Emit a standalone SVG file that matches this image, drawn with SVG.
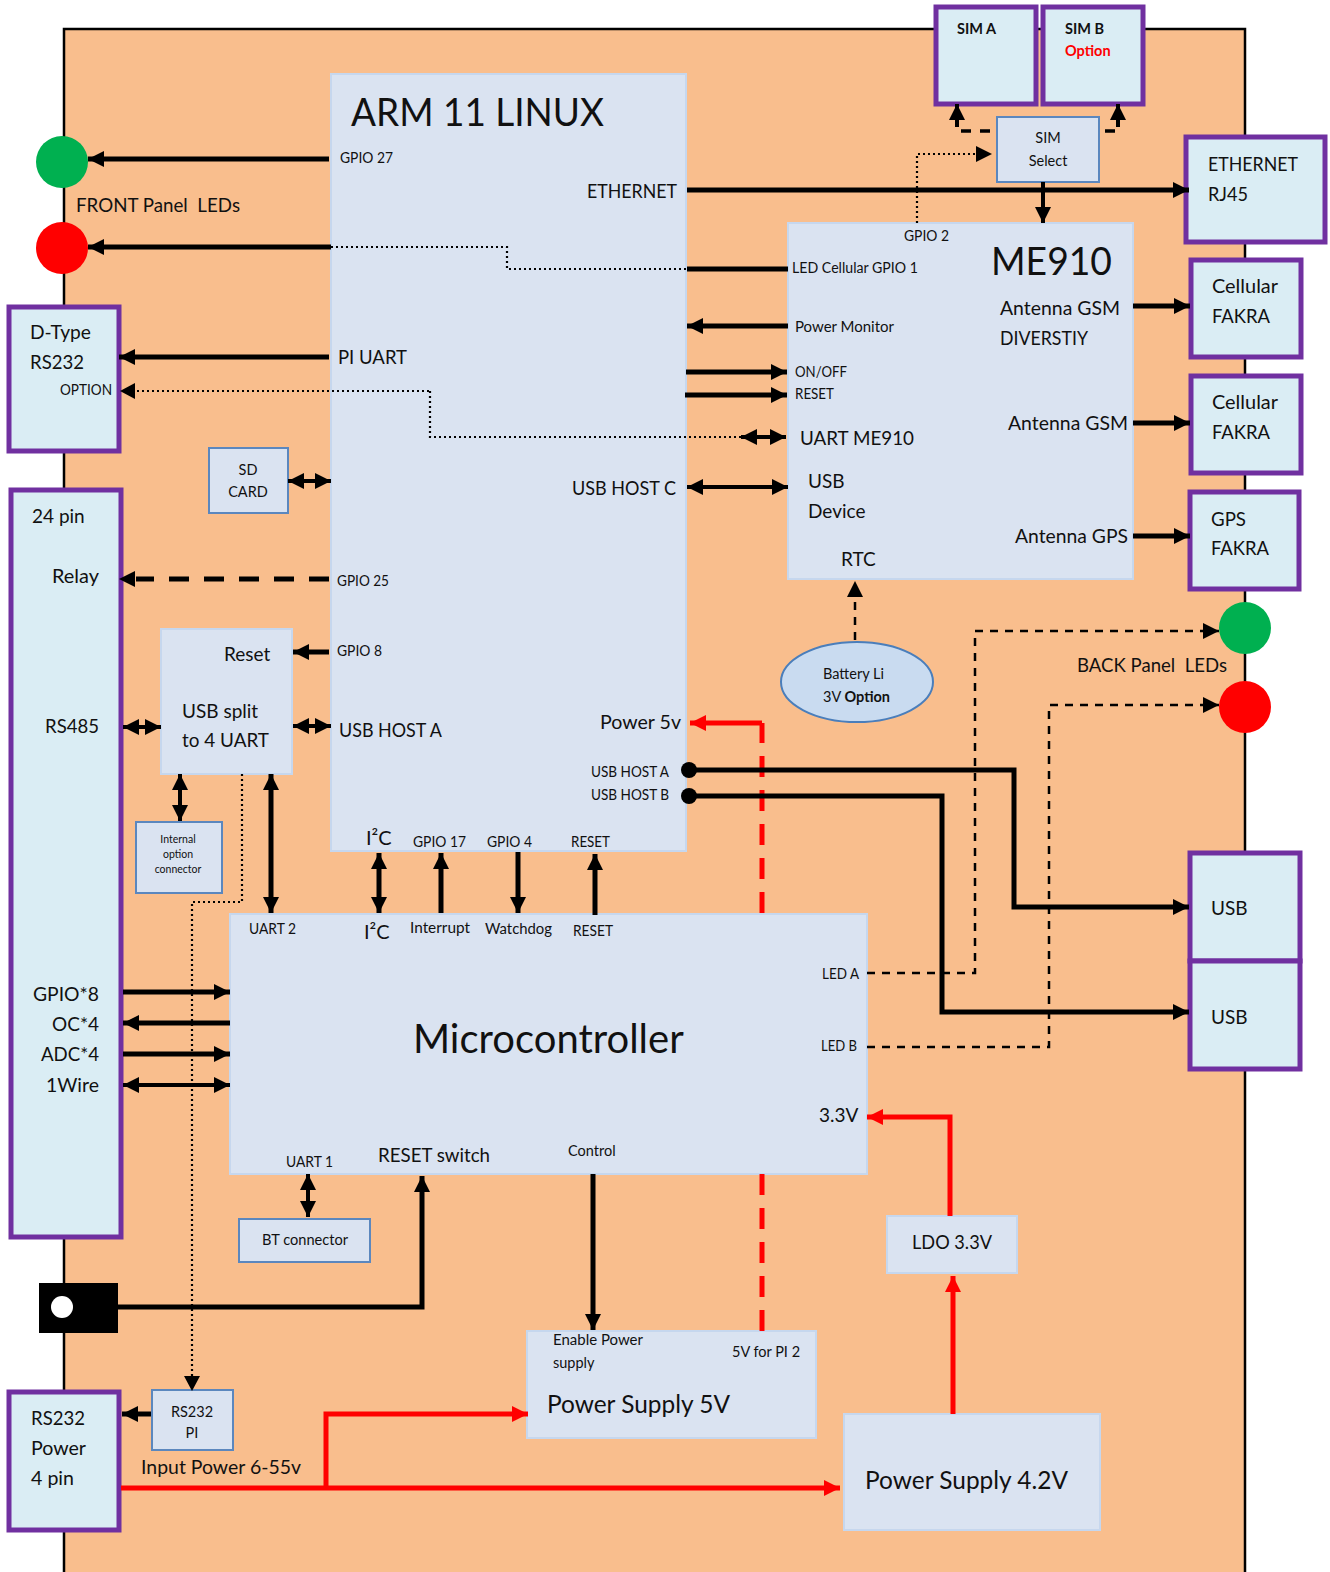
<svg xmlns="http://www.w3.org/2000/svg" width="1330" height="1572" viewBox="0 0 1330 1572">
<style>
text{font-family:Lato,"Liberation Sans",sans-serif;fill:#111}
.b{fill:#DAE3F1;stroke:#C6D7EE;stroke-width:2}
.s{fill:#DAE3F1;stroke:#5B87BE;stroke-width:2}
.p{fill:#DAEDF4;stroke:#7030A0;stroke-width:5}
.l{fill:none;stroke:#000;stroke-width:5}
.t{fill:none;stroke:#000;stroke-width:4}
.d{fill:none;stroke:#000;stroke-width:2.2;stroke-dasharray:2 3}
.h{fill:none;stroke:#000;stroke-width:2.5;stroke-dasharray:8 7}
.r{fill:none;stroke:#F00;stroke-width:5}
.e{marker-end:url(#a)}
.x{marker-start:url(#as);marker-end:url(#a)}
.f14{font-size:14.5px}.f19{font-size:19px}.f20{font-size:20px}
</style>
<defs>
<marker id="a" markerUnits="userSpaceOnUse" markerWidth="18" markerHeight="18" refX="16" refY="8" orient="auto"><path d="M0 0L16 8L0 16z" fill="#000"/></marker>
<marker id="as" markerUnits="userSpaceOnUse" markerWidth="18" markerHeight="18" refX="0" refY="8" orient="auto"><path d="M16 0L0 8L16 16z" fill="#000"/></marker>
<marker id="ar" markerUnits="userSpaceOnUse" markerWidth="18" markerHeight="18" refX="16" refY="8" orient="auto"><path d="M0 0L16 8L0 16z" fill="#F00"/></marker>
</defs>
<rect id="board" x="64" y="29" width="1181" height="1560" fill="#F9BE8D" stroke="#000" stroke-width="2.5"/>

<g id="arm"><rect class="b" x="331" y="74" width="355" height="777"/>
<text x="351" y="126" font-size="38" textLength="253" lengthAdjust="spacingAndGlyphs">ARM 11 LINUX</text>
<text class="f14" x="340" y="163" textLength="53" lengthAdjust="spacingAndGlyphs">GPIO 27</text>
<text class="f19" x="587" y="198" textLength="90" lengthAdjust="spacingAndGlyphs">ETHERNET</text>
<text class="f19" x="338" y="364" textLength="69" lengthAdjust="spacingAndGlyphs">PI UART</text>
<text class="f19" x="572" y="495" textLength="104" lengthAdjust="spacingAndGlyphs">USB HOST C</text>
<text class="f14" x="337" y="586" textLength="52" lengthAdjust="spacingAndGlyphs">GPIO 25</text>
<text class="f14" x="337" y="656" textLength="45" lengthAdjust="spacingAndGlyphs">GPIO 8</text>
<text class="f20" x="339" y="737" textLength="103" lengthAdjust="spacingAndGlyphs">USB HOST A</text>
<text class="f19" x="600" y="729" textLength="81" lengthAdjust="spacingAndGlyphs">Power 5v</text>
<text class="f14" x="591" y="777" textLength="78" lengthAdjust="spacingAndGlyphs">USB HOST A</text>
<text class="f14" x="591" y="800" textLength="78" lengthAdjust="spacingAndGlyphs">USB HOST B</text>
<text class="f20" x="366" y="845">I²C</text>
<text class="f14" x="413" y="847" textLength="53" lengthAdjust="spacingAndGlyphs">GPIO 17</text>
<text class="f14" x="487" y="847" textLength="45" lengthAdjust="spacingAndGlyphs">GPIO 4</text>
<text class="f14" x="571" y="847" textLength="39" lengthAdjust="spacingAndGlyphs">RESET</text>
</g>
<g id="me910"><rect class="b" x="788" y="223" width="345" height="356"/>
<text x="991" y="275" font-size="38" textLength="121" lengthAdjust="spacingAndGlyphs">ME910</text>
<text class="f14" x="904" y="241" textLength="45" lengthAdjust="spacingAndGlyphs">GPIO 2</text>
<text class="f14" x="792" y="273" textLength="126" lengthAdjust="spacingAndGlyphs">LED Cellular GPIO 1</text>
<text class="f14" x="795" y="332" textLength="99" lengthAdjust="spacingAndGlyphs">Power Monitor</text>
<text class="f14" x="795" y="377" textLength="52" lengthAdjust="spacingAndGlyphs">ON/OFF</text>
<text class="f14" x="795" y="399" textLength="39" lengthAdjust="spacingAndGlyphs">RESET</text>
<text class="f19" x="800" y="445" textLength="114" lengthAdjust="spacingAndGlyphs">UART ME910</text>
<text class="f19" x="808" y="488">USB</text>
<text class="f19" x="808" y="518">Device</text>
<text class="f19" x="841" y="566">RTC</text>
<text class="f19" x="1000" y="315" textLength="120" lengthAdjust="spacingAndGlyphs">Antenna GSM</text>
<text class="f19" x="1000" y="345" textLength="88" lengthAdjust="spacingAndGlyphs">DIVERSTIY</text>
<text class="f19" x="1008" y="430" textLength="120" lengthAdjust="spacingAndGlyphs">Antenna GSM</text>
<text class="f19" x="1015" y="543" textLength="113" lengthAdjust="spacingAndGlyphs">Antenna GPS</text>
</g>
<g id="sim-a"><rect class="p" x="936" y="7" width="100" height="97"/><text class="f14" x="957" y="34" font-weight="700">SIM A</text></g>
<g id="sim-b"><rect class="p" x="1043" y="7" width="100" height="97"/><text class="f14" x="1065" y="34" font-weight="700">SIM B</text><text class="f14" x="1065" y="56" font-weight="700" style="fill:#F00">Option</text></g>
<g id="sim-select"><rect class="s" x="997" y="117" width="102" height="65"/><text class="f14" x="1048" y="143" text-anchor="middle">SIM</text><text class="f14" x="1048" y="166" text-anchor="middle">Select</text></g>
<g id="ethernet"><rect class="p" x="1186" y="137" width="139" height="105"/><text class="f19" x="1208" y="171" textLength="90" lengthAdjust="spacingAndGlyphs">ETHERNET</text><text class="f19" x="1208" y="201" textLength="40" lengthAdjust="spacingAndGlyphs">RJ45</text></g>
<g id="fakra1"><rect class="p" x="1191" y="260" width="110" height="97"/><text class="f19" x="1212" y="293" textLength="66" lengthAdjust="spacingAndGlyphs">Cellular</text><text class="f19" x="1212" y="323" textLength="58" lengthAdjust="spacingAndGlyphs">FAKRA</text></g>
<g id="fakra2"><rect class="p" x="1191" y="376" width="110" height="97"/><text class="f19" x="1212" y="409" textLength="66" lengthAdjust="spacingAndGlyphs">Cellular</text><text class="f19" x="1212" y="439" textLength="58" lengthAdjust="spacingAndGlyphs">FAKRA</text></g>
<g id="gps"><rect class="p" x="1190" y="492" width="109" height="97"/><text class="f19" x="1211" y="526" textLength="35" lengthAdjust="spacingAndGlyphs">GPS</text><text class="f19" x="1211" y="555" textLength="58" lengthAdjust="spacingAndGlyphs">FAKRA</text></g>
<g id="led-front-green"><circle cx="62" cy="162" r="26" fill="#00B050"/></g>
<g id="led-front-red"><circle cx="62" cy="248" r="26" fill="#F00"/></g>
<text class="f19" x="76" y="212" xml:space="preserve" textLength="164" lengthAdjust="spacingAndGlyphs">FRONT Panel  LEDs</text>
<g id="dtype"><rect class="p" x="9" y="307" width="110" height="144"/><text class="f19" x="30" y="339" textLength="61" lengthAdjust="spacingAndGlyphs">D-Type</text><text class="f19" x="30" y="369" textLength="54" lengthAdjust="spacingAndGlyphs">RS232</text><text class="f14" x="60" y="395" textLength="52" lengthAdjust="spacingAndGlyphs">OPTION</text></g>
<g id="sd"><rect class="s" x="209" y="448" width="79" height="65"/><text class="f14" x="248" y="475" text-anchor="middle">SD</text><text class="f14" x="248" y="497" text-anchor="middle">CARD</text></g>
<g id="pin24"><rect class="p" x="11" y="490" width="110" height="747"/>
<text class="f19" x="32" y="523">24 pin</text><text class="f19" x="52" y="583" textLength="47" lengthAdjust="spacingAndGlyphs">Relay</text><text class="f19" x="45" y="733" textLength="54" lengthAdjust="spacingAndGlyphs">RS485</text>
<text class="f19" x="33" y="1001" textLength="66" lengthAdjust="spacingAndGlyphs">GPIO*8</text><text class="f19" x="52" y="1031" textLength="47" lengthAdjust="spacingAndGlyphs">OC*4</text><text class="f19" x="41" y="1061" textLength="58" lengthAdjust="spacingAndGlyphs">ADC*4</text><text class="f19" x="46" y="1092" textLength="53" lengthAdjust="spacingAndGlyphs">1Wire</text></g>
<g id="split"><rect class="b" x="161" y="629" width="131" height="145"/><text class="f19" x="224" y="661">Reset</text><text class="f19" x="182" y="718">USB split</text><text class="f19" x="182" y="747" textLength="87" lengthAdjust="spacingAndGlyphs">to 4 UART</text></g>
<g id="internal"><rect class="s" x="136" y="822" width="86" height="71"/><text font-size="10.5" x="178" y="843" text-anchor="middle">Internal</text><text font-size="10.5" x="178" y="858" text-anchor="middle">option</text><text font-size="10.5" x="178" y="873" text-anchor="middle">connector</text></g>
<g id="battery"><ellipse cx="857" cy="682" rx="76" ry="40" fill="#C9DBF0" stroke="#4A7EBB" stroke-width="2"/><text class="f14" x="823" y="679">Battery Li</text><text class="f14" x="823" y="702">3V <tspan font-weight="700">Option</tspan></text></g>
<g id="led-back-green"><circle cx="1245" cy="628" r="26" fill="#00B050"/></g>
<g id="led-back-red"><circle cx="1245" cy="707" r="26" fill="#F00"/></g>
<text class="f19" x="1077" y="672" xml:space="preserve" textLength="150" lengthAdjust="spacingAndGlyphs">BACK Panel  LEDs</text>
<g id="usb1"><rect class="p" x="1190" y="853" width="110" height="108"/><text class="f19" x="1211" y="915">USB</text></g>
<g id="usb2"><rect class="p" x="1190" y="961" width="110" height="108"/><text class="f19" x="1211" y="1024">USB</text></g>
<g id="micro"><rect class="b" x="230" y="914" width="637" height="260"/>
<text x="413" y="1053" font-size="40">Microcontroller</text>
<text class="f14" x="249" y="934" textLength="47" lengthAdjust="spacingAndGlyphs">UART 2</text>
<text class="f20" x="364" y="939">I²C</text>
<text class="f14" x="410" y="933" textLength="60" lengthAdjust="spacingAndGlyphs">Interrupt</text>
<text class="f14" x="485" y="934" textLength="67" lengthAdjust="spacingAndGlyphs">Watchdog</text>
<text class="f14" x="573" y="936" textLength="40" lengthAdjust="spacingAndGlyphs">RESET</text>
<text class="f14" x="822" y="979" textLength="37" lengthAdjust="spacingAndGlyphs">LED A</text>
<text class="f14" x="821" y="1051" textLength="36" lengthAdjust="spacingAndGlyphs">LED B</text>
<text class="f19" x="819" y="1122">3.3V</text>
<text class="f14" x="286" y="1167" textLength="47" lengthAdjust="spacingAndGlyphs">UART 1</text>
<text class="f19" x="378" y="1162" textLength="112" lengthAdjust="spacingAndGlyphs">RESET switch</text>
<text class="f14" x="568" y="1156">Control</text></g>
<g id="bt"><rect class="s" x="239" y="1219" width="131" height="43"/><text class="f14" x="305" y="1245" text-anchor="middle" textLength="86" lengthAdjust="spacingAndGlyphs">BT connector</text></g>
<g id="jack"><rect x="39" y="1283" width="79" height="50" fill="#000"/><circle cx="62" cy="1307" r="11" fill="#fff"/></g>
<g id="rs232pi"><rect class="s" x="152" y="1390" width="81" height="60"/><text class="f14" x="192" y="1417" text-anchor="middle">RS232</text><text class="f14" x="192" y="1438" text-anchor="middle">PI</text></g>
<g id="rs232power"><rect class="p" x="9" y="1392" width="110" height="138"/><text class="f19" x="31" y="1425" textLength="54" lengthAdjust="spacingAndGlyphs">RS232</text><text class="f19" x="31" y="1455" textLength="55" lengthAdjust="spacingAndGlyphs">Power</text><text class="f19" x="31" y="1485" textLength="43" lengthAdjust="spacingAndGlyphs">4 pin</text></g>
<text class="f19" x="141" y="1474" textLength="160" lengthAdjust="spacingAndGlyphs">Input Power 6-55v</text>
<g id="ps5"><rect class="b" x="527" y="1331" width="289" height="107"/><text class="f14" x="553" y="1345" textLength="90" lengthAdjust="spacingAndGlyphs">Enable Power</text><text class="f14" x="553" y="1368">supply</text><text class="f14" x="732" y="1357">5V for PI 2</text><text font-size="25" x="547" y="1413" textLength="183" lengthAdjust="spacingAndGlyphs">Power Supply 5V</text></g>
<g id="ps42"><rect class="b" x="844" y="1414" width="256" height="116"/><text font-size="25" x="865" y="1489" textLength="203" lengthAdjust="spacingAndGlyphs">Power Supply 4.2V</text></g>
<g id="ldo"><rect class="b" x="887" y="1216" width="130" height="57"/><text class="f19" x="912" y="1249" textLength="80" lengthAdjust="spacingAndGlyphs">LDO 3.3V</text></g>

<g id="connectors">
<path class="l e" d="M329 159H88"/>
<path class="l e" d="M331 247H88"/>
<path class="d" d="M331 247H507V269H687"/>
<path class="l" d="M687 269H788"/>
<path class="l e" d="M687 190H1189"/>
<path class="t e" d="M1043 182V223"/>
<path class="d" d="M917 223V154H977"/><path d="M976 146L992 154L976 162z"/>
<path class="t" style="stroke-width:3.5;stroke-dasharray:10 9" d="M990 131H961"/>
<path class="t e" d="M957 127V104"/>
<path class="t" style="stroke-width:3.5" d="M1105 131H1115"/>
<path class="t e" d="M1118 127V104"/>
<path class="l e" d="M788 326H687"/>
<path class="l e" d="M686 372H787"/>
<path class="l e" d="M685 395H787"/>
<path class="l e" d="M329 357H119"/>
<path class="d" d="M429 391H135"/><path d="M135 383L120 391L135 399z"/>
<path class="d" d="M430 391V437H742"/>
<path class="t x" d="M741 437H786"/>
<path class="t x" d="M288 481H331"/>
<path class="t x" d="M687 487H788"/>
<path class="l e" d="M1133 306H1190"/>
<path class="l e" d="M1133 423H1190"/>
<path class="l e" d="M1133 536H1190"/>
<path class="h e" d="M855 640V581"/>
<path class="l" style="stroke-dasharray:20 15" d="M329 579H136"/><path d="M135 571L119 579L135 587z"/>
<path class="l e" d="M329 652H293"/>
<path class="t x" d="M293 726H331"/>
<path class="t x" d="M123 727H161"/>
<path class="t x" d="M180 774V821"/>
<path class="l x" d="M271 774V913"/>
<path class="d" d="M242 774V902H192V1378"/><path d="M184 1376L192 1391L200 1376z"/>
<path class="l x" d="M379 853V913"/>
<path class="l e" d="M441 913V853"/>
<path class="l e" d="M518 852V913"/>
<path class="l e" d="M595 915V854"/>
<path class="l e" d="M123 992H230"/>
<path class="l e" d="M230 1023H123"/>
<path class="l e" d="M123 1054H230"/>
<path class="t x" d="M123 1085H230"/>
<path class="t x" d="M308 1174V1217"/>
<path class="l e" d="M118 1307H422V1176"/>
<path class="l e" d="M593 1174V1330"/>
<path class="l e" d="M151 1414H122"/>
<path class="r" style="stroke-dasharray:21 13" d="M762 1331V1174"/>
<path class="r" style="stroke-dasharray:21 13" d="M762 913V723"/>
<path class="r" style="marker-end:url(#ar)" d="M762 723H690"/>
<path class="r" style="marker-end:url(#ar)" d="M950 1216V1117H867"/>
<path class="r" style="marker-end:url(#ar)" d="M953 1414V1276"/>
<path class="r" style="marker-end:url(#ar)" d="M121 1488H840"/>
<path class="r" style="marker-end:url(#ar)" d="M326 1488V1414H528"/>
<path class="l e" d="M689 770H1014V907H1189"/>
<path class="l e" d="M689 796H942V1012H1189"/>
<circle cx="689" cy="770" r="8"/><circle cx="689" cy="796" r="8"/>
<path class="h e" d="M867 973H975V631H1219"/>
<path class="h e" d="M867 1047H1049V705H1219"/>
</g>
</svg>
